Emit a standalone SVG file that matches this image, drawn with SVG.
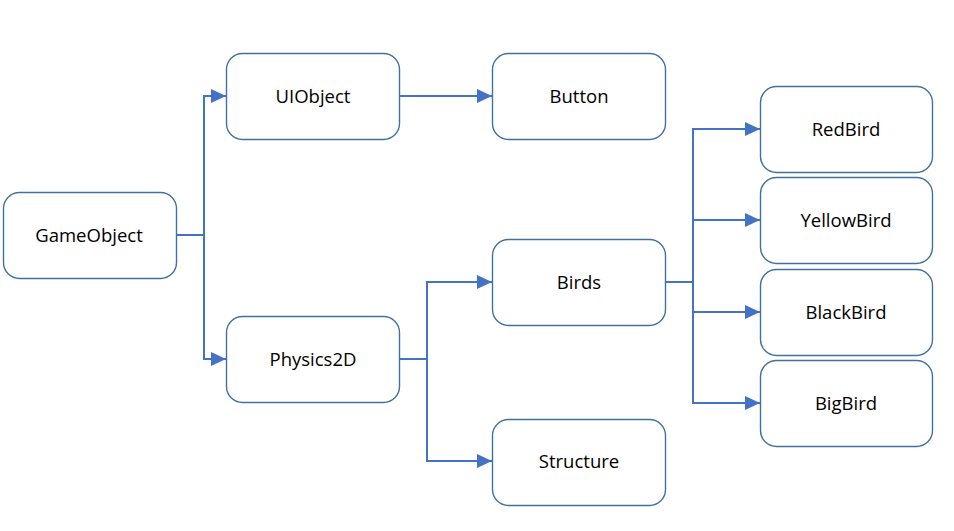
<svg xmlns="http://www.w3.org/2000/svg" width="954" height="531" viewBox="0 0 954 531">
<style>
.node rect{fill:#fff;stroke:#41719C;stroke-width:1.4}
.node text{font-family:"Open Sans","Liberation Sans",sans-serif;font-size:18.5px;fill:#000;text-anchor:middle;dominant-baseline:central}
.conn path{fill:none;stroke:#4472C4;stroke-width:2}
</style>
<defs>
<marker id="ah" markerUnits="userSpaceOnUse" markerWidth="16" markerHeight="14" refX="15" refY="7" orient="auto">
<path d="M0,0 L15,7 L0,14 Z" fill="#4472C4"/>
</marker>
</defs>
<rect width="954" height="531" fill="#fff"/>
<g class="conn">
<path d="M176,235 H204"/>
<path d="M204,235 V96 H226" marker-end="url(#ah)"/>
<path d="M204,235 V359 H226" marker-end="url(#ah)"/>
<path d="M400,96 H492" marker-end="url(#ah)"/>
<path d="M400,359 H427"/>
<path d="M427,359 V282 H492" marker-end="url(#ah)"/>
<path d="M427,359 V461 H492" marker-end="url(#ah)"/>
<path d="M666,282 H693"/>
<path d="M693,282 V129 H760" marker-end="url(#ah)"/>
<path d="M693,220 H760" marker-end="url(#ah)"/>
<path d="M693,312 H760" marker-end="url(#ah)"/>
<path d="M693,282 V403 H760" marker-end="url(#ah)"/>
</g>
<g id="gameobject" class="node"><rect x="3.5" y="192.5" width="173" height="86" rx="16"/><text x="89" y="234.5">GameObject</text></g>
<g id="uiobject" class="node"><rect x="226.5" y="53.5" width="173" height="86" rx="16"/><text x="313" y="95.5">UIObject</text></g>
<g id="button" class="node"><rect x="492.5" y="53.5" width="173" height="86" rx="16"/><text x="579" y="95.5">Button</text></g>
<g id="physics2d" class="node"><rect x="226.5" y="316.5" width="173" height="86" rx="16"/><text x="313" y="358.5">Physics2D</text></g>
<g id="birds" class="node"><rect x="492.5" y="239.5" width="173" height="86" rx="16"/><text x="579" y="281.5">Birds</text></g>
<g id="structure" class="node"><rect x="492.5" y="419.5" width="173" height="86" rx="16"/><text x="579" y="460.5">Structure</text></g>
<g id="redbird" class="node"><rect x="760.5" y="86.5" width="172" height="86" rx="16"/><text x="846" y="128.5">RedBird</text></g>
<g id="yellowbird" class="node"><rect x="760.5" y="177.5" width="172" height="86" rx="16"/><text x="846" y="219.5">YellowBird</text></g>
<g id="blackbird" class="node"><rect x="760.5" y="269.5" width="172" height="86" rx="16"/><text x="846" y="311.5">BlackBird</text></g>
<g id="bigbird" class="node"><rect x="760.5" y="360.5" width="172" height="86" rx="16"/><text x="846" y="402.5">BigBird</text></g>
</svg>
